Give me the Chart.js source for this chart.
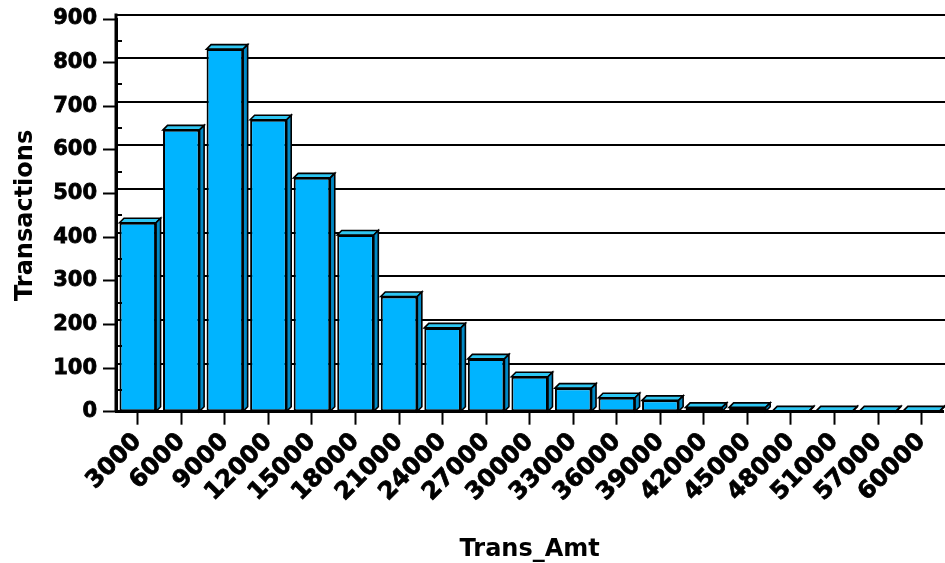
<!DOCTYPE html>
<html>
<head>
<meta charset="utf-8">
<script src="https://cdn.jsdelivr.net/npm/chart.js@4/dist/chart.umd.min.js"></script>
<style>
  html, body { margin: 0; padding: 0; background: #ffffff; }
  canvas { display: block; }
</style>
</head>
<body>
<canvas id="chart" width="945" height="563"></canvas>
<script>
// Transaction amount buckets and the number of transactions in each
const categories = ['3000', '6000', '9000', '12000', '15000', '18000', '21000', '24000', '27000',
  '30000', '33000', '36000', '39000', '42000', '45000', '48000', '51000', '57000', '60000'];
const transactions = [433, 646, 831, 669, 536, 405, 264, 192, 121, 80, 54, 32, 26, 10, 10, 2, 2, 2, 2];
const yTickValues = [0, 100, 200, 300, 400, 500, 600, 700, 800, 900];
const yMinorValues = [50, 150, 250, 350, 450, 550, 650, 750, 850];

const FONT = "'DejaVu Sans', sans-serif";
const DEPTH = 4.5;           // oblique depth of the 3D bars / back wall
const FRONT = '#00B4FF';
const TOP = '#2EC6F2';
const SIDE = '#0088C4';

// Back-wall grid lines, drawn behind the bars; 3D faces and minor ticks on top
const backWall = {
  id: 'backWall',
  beforeDatasetsDraw(chart) {
    const { ctx, chartArea, scales: { y } } = chart;
    ctx.save();
    ctx.strokeStyle = '#000';
    ctx.lineWidth = 2;
    for (const v of yTickValues) {
      if (v === 0) continue;
      const py = Math.round(y.getPixelForValue(v) - DEPTH);
      ctx.beginPath();
      ctx.moveTo(chartArea.left, py);
      ctx.lineTo(chart.width, py);
      ctx.stroke();
    }
    ctx.restore();
  },
  afterDatasetsDraw(chart) {
    const { ctx, chartArea, scales: { y } } = chart;
    const meta = chart.getDatasetMeta(0);
    ctx.save();
    ctx.lineJoin = 'miter';
    ctx.strokeStyle = '#000';
    ctx.lineWidth = 1.6;
    meta.data.forEach((bar) => {
      const { x, y: top, base, width } = bar.getProps(['x', 'y', 'base', 'width'], true);
      const L = x - width / 2, R = x + width / 2;
      // top face
      ctx.fillStyle = TOP;
      ctx.beginPath();
      ctx.moveTo(L, top);
      ctx.lineTo(L + DEPTH, top - DEPTH);
      ctx.lineTo(R + DEPTH, top - DEPTH);
      ctx.lineTo(R, top);
      ctx.closePath();
      ctx.fill();
      ctx.stroke();
      // right side face
      ctx.fillStyle = SIDE;
      ctx.beginPath();
      ctx.moveTo(R, top);
      ctx.lineTo(R + DEPTH, top - DEPTH);
      ctx.lineTo(R + DEPTH, base - DEPTH);
      ctx.lineTo(R, base);
      ctx.closePath();
      ctx.fill();
      ctx.stroke();
    });
    // left wall / axis line running up to the back top edge
    ctx.lineWidth = 3;
    ctx.beginPath();
    ctx.moveTo(chartArea.left, y.getPixelForValue(900) - DEPTH - 1);
    ctx.lineTo(chartArea.left, chartArea.bottom);
    ctx.stroke();
    // minor ticks inside the axis
    ctx.lineWidth = 2;
    for (const v of yMinorValues) {
      const py = Math.round(y.getPixelForValue(v));
      ctx.beginPath();
      ctx.moveTo(chartArea.left, py);
      ctx.lineTo(chartArea.left + 6, py);
      ctx.stroke();
    }
    ctx.restore();
  }
};

new Chart(document.getElementById('chart'), {
  type: 'bar',
  data: {
    labels: categories,
    datasets: [{
      data: transactions,
      backgroundColor: FRONT,
      borderColor: '#000',
      borderWidth: 2,
      borderSkipped: false,
      barPercentage: 0.84,
      categoryPercentage: 1.0
    }]
  },
  options: {
    responsive: false,
    devicePixelRatio: 1,
    animation: false,
    layout: { padding: { top: 19, right: 1, bottom: 0, left: 0 } },
    plugins: {
      legend: { display: false },
      tooltip: { enabled: false }
    },
    scales: {
      x: {
        offset: true,
        afterFit(scale) { scale.height = 151.3; },
        grid: {
          offset: false,
          drawOnChartArea: false,
          drawTicks: true,
          tickLength: 13,
          tickWidth: 2,
          tickColor: '#000'
        },
        border: { display: true, color: '#000', width: 3 },
        ticks: {
          autoSkip: false,
          maxRotation: 45,
          minRotation: 45,
          padding: 3,
          color: '#000',
          textStrokeColor: '#000',
          textStrokeWidth: 0.8,
          font: { family: FONT, size: 24, weight: 'bold' }
        },
        title: {
          display: true,
          text: 'Trans_Amt',
          color: '#000',
          font: { family: FONT, size: 24, weight: 'bold', lineHeight: 1 },
          padding: { top: 0, bottom: 1 }
        }
      },
      y: {
        min: 0,
        max: 900,
        afterFit(scale) { scale.width = 116; },
        afterBuildTicks(scale) { scale.ticks = yTickValues.map(v => ({ value: v })); },
        grid: {
          drawOnChartArea: false,
          drawTicks: true,
          tickLength: 13,
          tickWidth: 2,
          tickColor: '#000'
        },
        border: { display: true, color: '#000', width: 3 },
        ticks: {
          padding: 6,
          color: '#000',
          textStrokeColor: '#000',
          textStrokeWidth: 0.8,
          font: { family: FONT, size: 21, weight: 'bold' }
        },
        title: {
          display: true,
          text: 'Transactions',
          color: '#000',
          font: { family: FONT, size: 24, weight: 'bold', lineHeight: 1 },
          padding: { top: 14, bottom: 0 }
        }
      }
    }
  },
  plugins: [backWall]
});
</script>
</body>
</html>
